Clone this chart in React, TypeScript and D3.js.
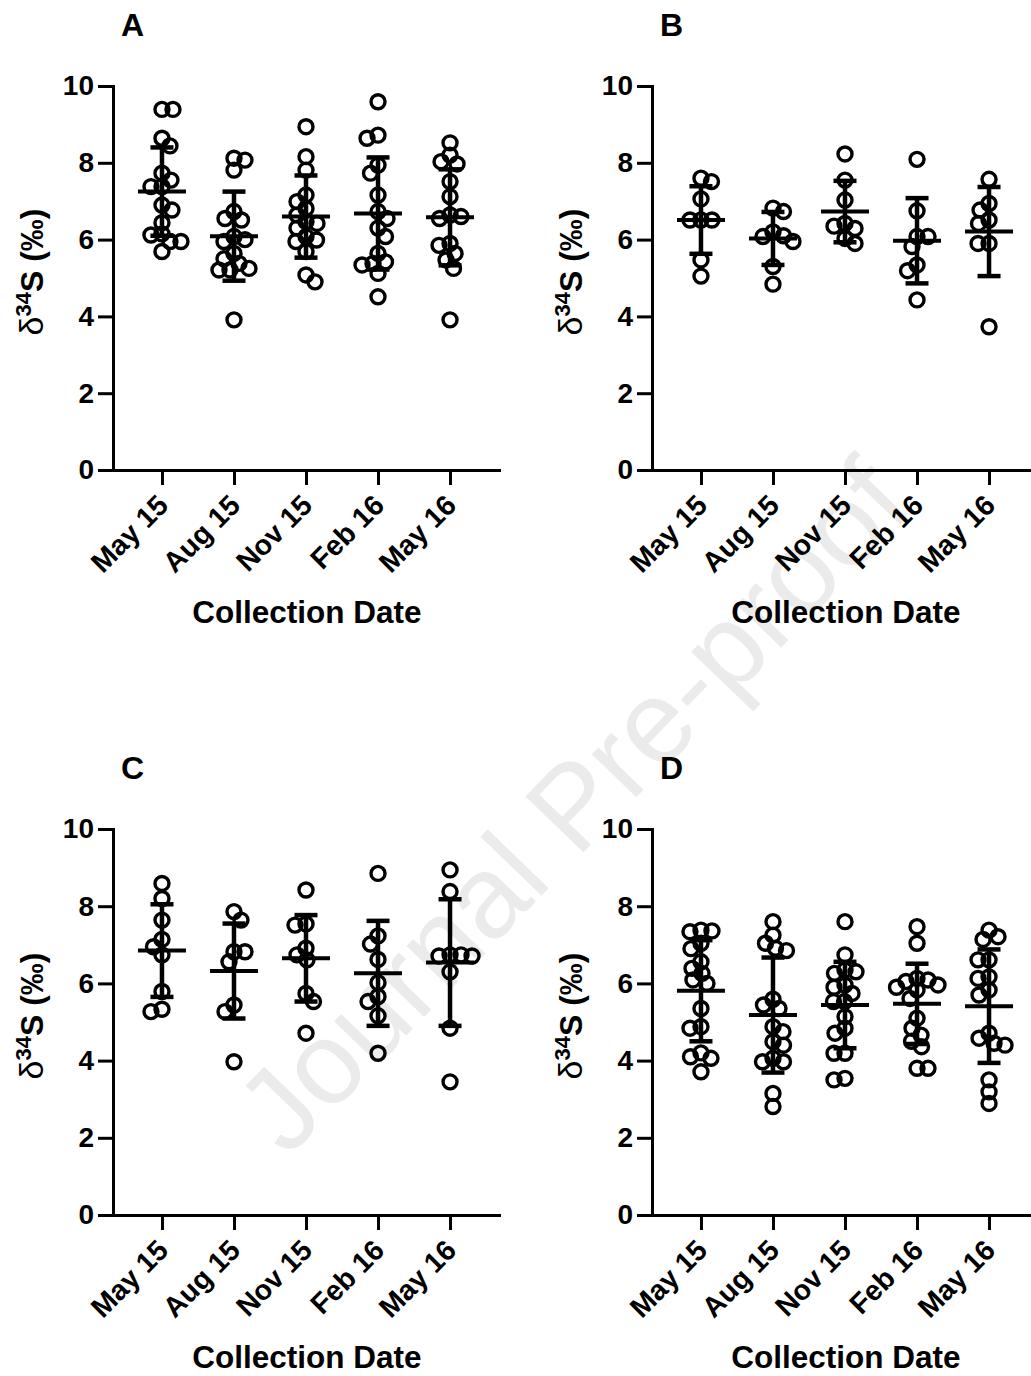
import * as d3 from 'd3';
import React, { useEffect, useRef } from 'react';

const FONT = '"Liberation Sans", Arial, Helvetica, sans-serif';

const categories = ['May 15', 'Aug 15', 'Nov 15', 'Feb 16', 'May 16'];
const yTicks = [0, 2, 4, 6, 8, 10];

// panel A
const valuesA = [
  [9.39, 9.39, 8.64, 8.44, 7.73, 7.55, 7.38, 7.38, 6.9, 6.77, 6.44, 6.15, 6.12, 5.95, 5.95, 5.69],
  [8.12, 8.07, 7.81, 6.73, 6.55, 6.51, 6.08, 6.0, 5.95, 5.64, 5.5, 5.38, 5.25, 5.21, 5.21, 3.91],
  [8.94, 8.16, 7.81, 7.16, 6.99, 6.81, 6.64, 6.47, 6.42, 6.3, 6.08, 5.99, 5.95, 5.69, 5.08, 4.9],
  [9.59, 8.72, 8.64, 7.94, 7.73, 7.16, 6.73, 6.55, 6.3, 6.08, 5.64, 5.42, 5.38, 5.34, 5.12, 4.51],
  [8.52, 8.2, 8.03, 7.97, 7.51, 7.12, 6.64, 6.6, 6.55, 5.9, 5.85, 5.64, 5.47, 5.25, 3.91],
];
const meanA = [7.25, 6.09, 6.6, 6.68, 6.58];
const sdA = [1.15, 1.16, 1.07, 1.46, 1.25];

// panel B
const valuesB = [
  [7.6, 7.51, 7.06, 6.51, 6.51, 6.51, 5.47, 5.05],
  [6.82, 6.73, 6.2, 6.1, 6.08, 5.95, 5.3, 4.84],
  [8.23, 7.55, 7.03, 6.42, 6.35, 6.29, 6.03, 5.9],
  [8.09, 6.75, 6.08, 6.08, 5.82, 5.34, 5.19, 4.43],
  [7.57, 6.94, 6.77, 6.51, 6.42, 5.9, 5.9, 3.73],
];
const meanB = [6.51, 6.03, 6.73, 5.97, 6.21];
const sdB = [0.88, 0.69, 0.8, 1.11, 1.16];

// panel C
const valuesC = [
  [8.59, 8.2, 7.64, 7.14, 6.95, 6.74, 5.79, 5.33, 5.27],
  [7.86, 7.64, 6.82, 6.82, 6.56, 5.44, 5.27, 3.97],
  [8.42, 7.54, 7.51, 6.91, 6.74, 6.61, 5.74, 5.53, 4.71],
  [8.85, 7.23, 7.02, 6.62, 6.02, 5.66, 5.53, 5.16, 4.19],
  [8.94, 8.38, 6.74, 6.74, 6.71, 6.71, 6.3, 4.84, 3.45],
];
const meanC = [6.85, 6.32, 6.65, 6.26, 6.54];
const sdC = [1.2, 1.23, 1.12, 1.36, 1.64];

// panel D
const valuesD = [
  [7.38, 7.36, 7.34, 7.04, 6.9, 6.56, 6.39, 6.26, 6.09, 6.0, 5.35, 4.88, 4.84, 4.2, 4.1, 4.06, 3.71],
  [7.6, 7.25, 7.04, 6.91, 6.85, 5.59, 5.44, 5.35, 4.88, 4.75, 4.49, 4.4, 4.06, 3.97, 3.97, 3.15, 2.81],
  [7.6, 6.74, 6.35, 6.3, 6.26, 5.96, 5.9, 5.74, 5.53, 5.53, 5.14, 4.84, 4.71, 4.19, 4.19, 3.54, 3.5],
  [7.47, 7.04, 6.13, 6.09, 6.05, 5.96, 5.9, 5.83, 5.61, 5.1, 4.84, 4.66, 4.5, 4.36, 3.8, 3.8],
  [7.38, 7.21, 7.14, 6.61, 6.61, 6.17, 6.13, 5.83, 5.7, 4.71, 4.58, 4.45, 4.4, 3.5, 3.19, 2.89],
];
const meanD = [5.81, 5.18, 5.44, 5.47, 5.41];
const sdD = [1.31, 1.49, 1.12, 1.04, 1.47];

const panels = [
  { letter: 'A', values: valuesA, mean: meanA, sd: sdA, left: 113, top: 86, bottom: 470 },
  { letter: 'B', values: valuesB, mean: meanB, sd: sdB, left: 652, top: 86, bottom: 470 },
  { letter: 'C', values: valuesC, mean: meanC, sd: sdC, left: 113, top: 829, bottom: 1215 },
  { letter: 'D', values: valuesD, mean: meanD, sd: sdD, left: 652, top: 829, bottom: 1215 },
];

// spread points sideways so they don't pile up (greedy beeswarm)
function swarm(vals: number[], y: (v: number) => number, minDist: number) {
  const order = d3.range(vals.length).sort((a, b) => vals[b] - vals[a]);
  const placed: { x: number; y: number }[] = [];
  const out: number[] = new Array(vals.length).fill(0);
  order.forEach((idx, k) => {
    const py = y(vals[idx]);
    let off = 0;
    for (let s = 0; s < 80; s += 0.5) {
      const cands = k % 2 ? [s, -s] : [-s, s];
      const hit = cands.find((c) =>
        placed.every((p) => (p.x - c) ** 2 + (p.y - py) ** 2 >= minDist * minDist));
      if (hit !== undefined) {
        off = hit;
        break;
      }
    }
    placed.push({ x: off, y: py });
    out[idx] = off;
  });
  return out;
}

function drawPanel(svg: any, p: any) {
  const x = d3.scalePoint<string>().domain(categories).range([p.left, p.left + 386]).padding(0.68);
  const y = d3.scaleLinear().domain([0, 10]).range([p.bottom, p.top]);
  const g = svg.append('g');

  // Y axis
  const ya = g.append('g')
    .attr('transform', `translate(${p.left},0)`)
    .call(d3.axisLeft(y).tickValues(yTicks).tickSize(15).tickSizeOuter(0).tickPadding(4));
  ya.select('.domain').attr('stroke-width', 3).attr('stroke-linecap', 'square');
  ya.selectAll('.tick line').attr('stroke-width', 3);
  ya.selectAll('.tick text')
    .attr('font-size', 28).attr('font-weight', 'bold').attr('font-family', FONT).attr('fill', '#000');

  // X axis
  const xa = g.append('g')
    .attr('transform', `translate(0,${p.bottom})`)
    .call(d3.axisBottom(x).tickSize(15).tickSizeOuter(0).tickFormat(() => ''));
  xa.select('.domain').attr('stroke-width', 3).attr('stroke-linecap', 'square');
  xa.selectAll('.tick line').attr('stroke-width', 3);

  g.selectAll('text.cat')
    .data(categories)
    .join('text')
    .attr('class', 'cat')
    .attr('transform', (d: string) => `translate(${(x(d) as number) + 8},${p.bottom + 37}) rotate(-45)`)
    .attr('text-anchor', 'end')
    .attr('font-family', FONT)
    .attr('font-weight', 'bold')
    .attr('font-size', 28.5)
    .text((d: string) => d);

  // axis titles
  g.append('text')
    .attr('x', p.left + 194)
    .attr('y', p.bottom + 153)
    .attr('text-anchor', 'middle')
    .attr('font-family', FONT)
    .attr('font-weight', 'bold')
    .attr('font-size', 31.5)
    .text('Collection Date');

  const yl = g.append('text')
    .attr('transform', `translate(${p.left - 70},${(p.top + p.bottom) / 2 - 6}) rotate(-90)`)
    .attr('text-anchor', 'middle')
    .attr('font-family', FONT)
    .attr('font-weight', 'bold')
    .attr('font-size', 32);
  yl.append('tspan').attr('font-weight', 'normal').attr('font-size', 34).text('δ');
  yl.append('tspan').attr('font-size', 22).attr('dy', -12).text('34');
  yl.append('tspan').attr('dy', 12).text('S (‰)');

  g.append('text')
    .attr('x', p.left + 8)
    .attr('y', p.top - 50)
    .attr('font-family', FONT)
    .attr('font-weight', 'bold')
    .attr('font-size', 32)
    .text(p.letter);

  // points
  categories.forEach((c, i) => {
    const cx = x(c) as number;
    const vals: number[] = p.values[i];
    const offs = swarm(vals, y, 11);
    g.append('g')
      .selectAll('circle')
      .data(vals)
      .join('circle')
      .attr('cx', (_: number, j: number) => cx + offs[j])
      .attr('cy', (d: number) => y(d))
      .attr('r', 7)
      .attr('fill', 'none')
      .attr('stroke', '#000')
      .attr('stroke-width', 3.4);

    // mean and SD bars
    const m = p.mean[i];
    const s = p.sd[i];
    const bars = g.append('g').attr('stroke', '#000');
    bars.append('line')
      .attr('x1', cx).attr('x2', cx)
      .attr('y1', y(m + s)).attr('y2', y(m - s))
      .attr('stroke-width', 4.5);
    [m + s, m - s].forEach((v) => {
      bars.append('line')
        .attr('x1', cx - 11.5).attr('x2', cx + 11.5)
        .attr('y1', y(v)).attr('y2', y(v))
        .attr('stroke-width', 4.5);
    });
    bars.append('line')
      .attr('x1', cx - 24).attr('x2', cx + 24)
      .attr('y1', y(m)).attr('y2', y(m))
      .attr('stroke-width', 4);
  });
}

export default function App() {
  const ref = useRef<SVGSVGElement>(null);

  useEffect(() => {
    const svg = d3.select(ref.current);
    svg.selectAll('*').remove();

    // watermark behind everything
    svg.append('text')
      .attr('transform', 'translate(572,805) rotate(-46)')
      .attr('text-anchor', 'middle')
      .attr('dy', '0.35em')
      .attr('font-family', FONT)
      .attr('font-size', 117)
      .attr('fill', '#ebebeb')
      .text('Journal Pre-proof');

    panels.forEach((p) => drawPanel(svg, p));
  }, []);

  return (
    <svg
      ref={ref}
      width={1031}
      height={1376}
      style={{ position: 'absolute', left: 0, top: 0, background: '#fff' }}
    />
  );
}
